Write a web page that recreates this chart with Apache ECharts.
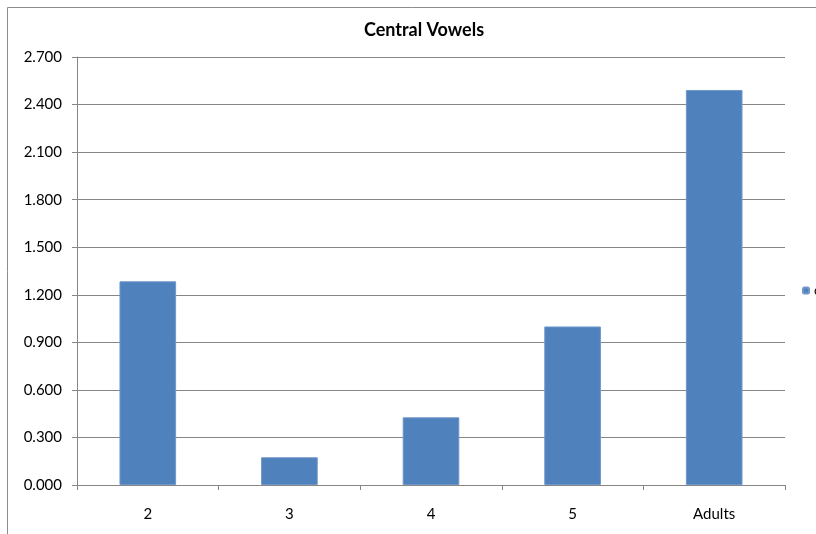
<!DOCTYPE html>
<html>
<head>
<meta charset="utf-8">
<script src="https://cdn.jsdelivr.net/npm/echarts@6/dist/echarts.min.js"></script>
<style>
  html, body { margin: 0; padding: 0; background: #fff; }
  #chart { width: 816px; height: 534px; }
</style>
</head>
<body>
<div id="chart"></div>
<script>
// Age groups and their central vowel values
const categories = ['2', '3', '4', '5', 'Adults'];
const values = [1.285, 0.175, 0.427, 1.0, 2.492];
const seriesName = 'central';

const chart = echarts.init(document.getElementById('chart'), null, { renderer: 'canvas' });
const font = 'Lato, "Open Sans", sans-serif';
const axisGray = '#868686';

chart.setOption({
  animation: false,
  backgroundColor: '#ffffff',
  title: {
    text: 'Central Vowels',
    left: 419,
    textAlign: 'center',
    top: 16,
    textStyle: { fontFamily: font, fontSize: 18, fontWeight: 'bold', color: '#000' }
  },
  legend: {
    data: [seriesName],
    left: 797,
    top: 279,
    itemWidth: 6,
    itemHeight: 6,
    itemGap: 3,
    textStyle: { fontFamily: font, fontSize: 13, color: '#000', overflow: 'none', width: 80 }
  },
  grid: { left: 77, right: 31, top: 57, bottom: 49 },
  xAxis: {
    type: 'category',
    data: categories,
    axisLine: { lineStyle: { color: axisGray } },
    axisTick: { show: true, length: 5, lineStyle: { color: axisGray } },
    axisLabel: { fontFamily: font, fontSize: 15, color: '#000', margin: 22 }
  },
  yAxis: {
    type: 'value',
    min: 0,
    max: 2.7,
    interval: 0.3,
    axisLine: { show: true, lineStyle: { color: axisGray } },
    axisTick: { show: true, length: 5, lineStyle: { color: axisGray } },
    splitLine: { lineStyle: { color: axisGray } },
    axisLabel: {
      fontFamily: font, fontSize: 15, color: '#000', margin: 15,
      formatter: v => v.toFixed(3)
    }
  },
  series: [{
    name: seriesName,
    type: 'bar',
    data: values,
    barWidth: '40%',
    itemStyle: { color: '#4F81BD', borderColor: '#6f97c9', borderWidth: 1 }
  }],
  graphic: [{
    type: 'rect',
    shape: { x: 7.5, y: 7.5, width: 900, height: 600 },
    style: { fill: null, stroke: '#8c8c8c', lineWidth: 1 },
    silent: true
  }]
});
</script>
</body>
</html>
